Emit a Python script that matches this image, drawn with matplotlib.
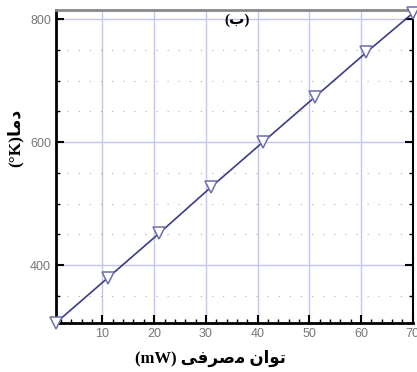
import matplotlib
matplotlib.use("Agg")
import matplotlib.pyplot as plt
from matplotlib.ticker import MultipleLocator

# data
power_mw = [1, 11, 21, 31, 41, 51, 61, 70]
temp_k = [306, 379, 452, 527, 600, 673, 746, 810]

x_ticks = [10, 20, 30, 40, 50, 60, 70]
y_ticks = [400, 600, 800]

# Persian labels written with presentation forms, in visual (left-to-right) order
xlabel = "(mW) " + "\uFBFD\uFED3\uFEAE\uFEBB\uFEE3" + " " + "\uFEE5\uFE8D\uFEEE\uFE97"
ylabel = "(\u00b0K)" + "\uFE8E\uFEE3\uFEA9"
title = "(\uFE8F)"

fig = plt.figure(figsize=(4.17, 3.72), dpi=100)
ax = fig.add_axes([0.134, 0.132, 0.856, 0.841])

line_color = "#3b3b8a"
ax.plot(power_mw, temp_k, color=line_color, linewidth=1.2, zorder=3,
        marker="v", markersize=8, markerfacecolor="white",
        markeredgecolor="#6e6eaa", markeredgewidth=1.1, clip_on=False)

ax.set_xlim(1, 70)
ax.set_ylim(306, 815)
ax.set_xticks(x_ticks)
ax.set_yticks(y_ticks)
ax.xaxis.set_minor_locator(MultipleLocator(2))
ax.yaxis.set_minor_locator(MultipleLocator(50))

# grids
ax.grid(True, which="major", color="#c4c4f4", linewidth=1.0, zorder=0)
ax.grid(True, which="minor", axis="y", color="#b0b0b0", linewidth=0.8,
        linestyle=(0, (1, 9)), zorder=0)

ax.tick_params(axis="both", which="major", direction="in", length=6, width=1.5,
               labelsize=9, colors="black", right=True, top=False)
ax.tick_params(axis="both", which="minor", direction="in", length=3, width=1.0,
               right=True, top=False)
for lab in ax.get_xticklabels() + ax.get_yticklabels():
    lab.set_fontfamily("Liberation Sans")
    lab.set_color("#777777")

for side in ["left", "bottom"]:
    ax.spines[side].set_linewidth(2)
    ax.spines[side].set_color("black")
ax.spines["right"].set_linewidth(1.5)
ax.spines["right"].set_color("black")
ax.spines["top"].set_linewidth(2)
ax.spines["top"].set_color("#888888")

fam = ["Liberation Serif", "DejaVu Sans"]
ax.set_xlabel(xlabel, fontsize=12, fontweight="bold", family=fam)
ax.xaxis.set_label_coords(0.434, -0.085)
ax.set_ylabel(ylabel, fontsize=12.5, fontweight="bold", family=fam)
ax.yaxis.set_label_coords(-0.09, 0.59)
ax.text(0.508, 0.99, title, transform=ax.transAxes, ha="center", va="top",
        fontsize=11, fontweight="bold", family=fam)

fig.savefig("out.png", dpi=100)
